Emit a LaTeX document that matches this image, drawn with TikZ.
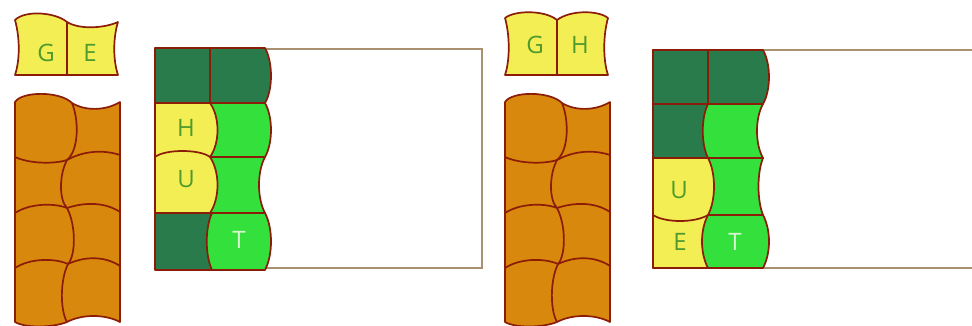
\documentclass[tikz,border=0pt]{standalone}
\usepackage{fontspec}
\setmainfont{Open Sans}
\definecolor{edgec}{HTML}{8A1C08}
\definecolor{orangec}{HTML}{D8880C}
\definecolor{darkg}{HTML}{2A7B4B}
\definecolor{brightg}{HTML}{33E03C}
\definecolor{yell}{HTML}{F4EE55}
\definecolor{rectc}{HTML}{A89070}
\definecolor{letg}{HTML}{4E9A2C}
\definecolor{lett}{HTML}{D8F5D0}
\tikzset{
  cell/.style={draw=edgec, line width=1.7pt, line join=round},
  dk/.style={cell, fill=darkg},
  gr/.style={cell, fill=brightg},
  yl/.style={cell, fill=yell},
  org/.style={cell, fill=orangec},
  board/.style={draw=rectc, line width=1.2pt, fill=white},
  lab/.style={font=\fontsize{24}{24}\selectfont, text=letg, inner sep=0pt},
  labt/.style={lab, text=lett}
}
\newcommand{\orangecolumn}{%
  \draw[org] (15,102) .. controls (22,91) and (60,91) .. (72,103)
    .. controls (85,111) and (105,111) .. (120,102) -- (120,322)
    .. controls (105,314) and (82,314) .. (67,322)
    .. controls (52,328) and (25,328) .. (15,322) -- cycle;
  \draw[cell] (72,103) .. controls (79,120) and (79,150) .. (67,160)
    .. controls (59,175) and (59,200) .. (67,208)
    .. controls (76,225) and (76,255) .. (68,264)
    .. controls (60,280) and (60,310) .. (67,322);
  \draw[cell] (15,157) .. controls (30,164) and (55,164) .. (67,160)
    .. controls (85,150) and (105,150) .. (120,155);
  \draw[cell] (15,213) .. controls (30,203) and (55,203) .. (67,208)
    .. controls (85,202) and (105,202) .. (120,212);
  \draw[cell] (15,268) .. controls (30,258) and (55,258) .. (68,264)
    .. controls (85,256) and (105,256) .. (120,266);
}
\begin{document}
\begin{tikzpicture}[x=1pt,y=-1pt]
\useasboundingbox (0,0) rectangle (972,325);
% ---------- panel 1 ----------
\draw[yl] (15,20) .. controls (25,10) and (55,12) .. (67,22)
  .. controls (80,30) and (105,28) .. (118,22)
  .. controls (113,38) and (113,60) .. (118,75) -- (15,75)
  .. controls (20,60) and (20,38) .. (15,20) -- cycle;
\draw[cell] (67,22) -- (67,75);
\node[lab] (g1) at (46,53) {G};
\node[lab] (e1) at (90,53) {E};
\orangecolumn
\draw[board] (155,49) rectangle (482,268);
\draw[dk] (155,48) rectangle (210,103);
\draw[dk] (210,48) -- (265,48) .. controls (273,62) and (273,90) .. (265,103) -- (210,103) -- cycle;
\draw[gr] (210,103) -- (265,103) .. controls (273,117) and (273,143) .. (265,157) -- (210,157) -- cycle;
\draw[gr] (210,157) -- (265,157) .. controls (257,172) and (257,198) .. (265,213) -- (210,213) -- cycle;
\draw[dk] (155,213) rectangle (212,270);
\draw[gr] (212,213) -- (265,213) .. controls (273,228) and (273,255) .. (265,270) -- (212,270)
  .. controls (205,255) and (205,228) .. (212,213) -- cycle;
\draw[yl] (155,103) -- (210,103) .. controls (220,117) and (220,143) .. (210,157) -- (155,157) -- cycle;
\draw[yl] (155,157) .. controls (165,149) and (200,149) .. (210,157)
  .. controls (220,172) and (220,198) .. (210,213) -- (155,213) -- cycle;
\node[lab] (h1) at (186,128) {H};
\node[lab] (u1) at (186,179) {U};
\node[labt] (t1) at (239,240) {T};
% ---------- panel 2 ----------
\begin{scope}[xshift=490pt]
\draw[yl] (15,18) .. controls (25,10) and (55,10) .. (67,20)
  .. controls (80,10) and (108,10) .. (118,18)
  .. controls (113,36) and (113,60) .. (118,75) -- (15,75)
  .. controls (20,60) and (20,36) .. (15,18) -- cycle;
\draw[cell] (67,20) -- (67,75);
\node[lab] (g2) at (45,45) {G};
\node[lab] (h2) at (90,45) {H};
\orangecolumn
\end{scope}
\draw[board] (653,50) rectangle (985,268);
\draw[dk] (653,50) rectangle (708,104);
\draw[dk] (708,50) -- (763,50) .. controls (771,64) and (771,90) .. (763,104) -- (708,104) -- cycle;
\draw[dk] (653,104) rectangle (708,158);
\draw[gr] (708,104) -- (763,104) .. controls (755,118) and (755,144) .. (763,158) -- (708,158)
  .. controls (701,144) and (701,118) .. (708,104) -- cycle;
\draw[gr] (708,158) -- (763,158) .. controls (757,173) and (757,200) .. (763,215) -- (708,215) -- cycle;
\draw[yl] (653,215) rectangle (708,268);
\draw[gr] (708,215) -- (763,215) .. controls (771,230) and (771,253) .. (763,268) -- (708,268)
  .. controls (700,253) and (700,230) .. (708,215) -- cycle;
\draw[yl] (653,158) -- (708,158) .. controls (716,173) and (716,200) .. (708,215)
  .. controls (695,223) and (665,223) .. (653,215) -- cycle;
\node[lab] (u2) at (679,190) {U};
\node[lab] (e2) at (680,242) {E};
\node[labt] (t2) at (735,242) {T};
\end{tikzpicture}
\end{document}
